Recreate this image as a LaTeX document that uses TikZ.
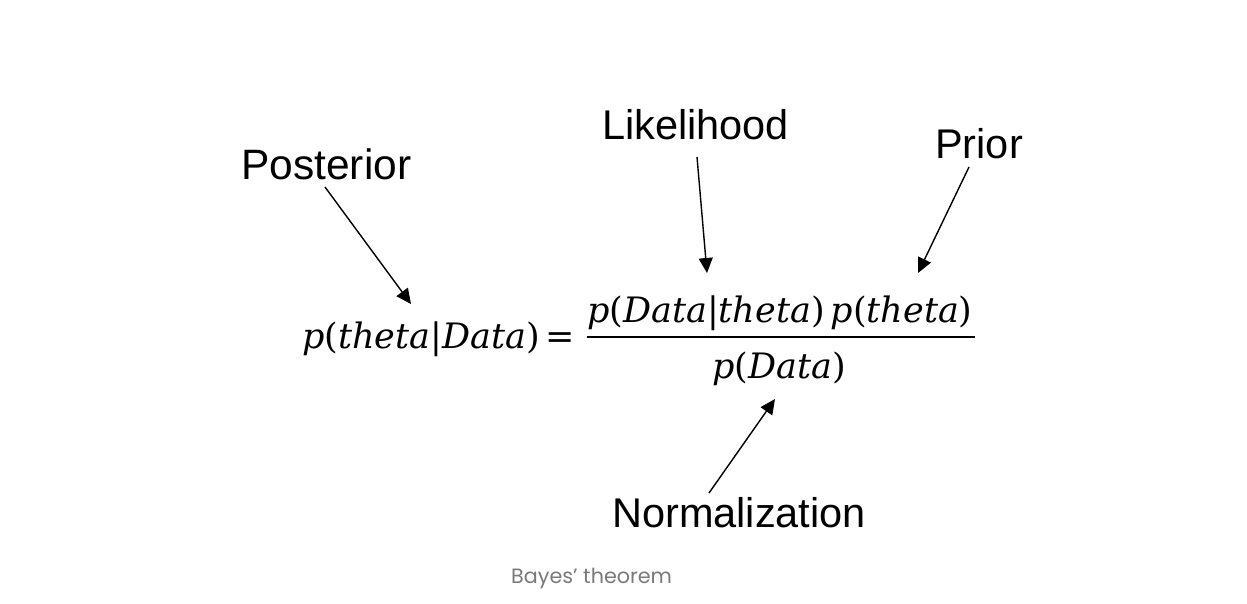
\documentclass[tikz,border=0pt]{standalone}
\usepackage{fontspec}
\setmainfont{Liberation Sans}
\newfontfamily\fm{DejaVu Serif}
\newfontfamily\capfont{Poppins}
\usetikzlibrary{arrows.meta}
\definecolor{capgray}{HTML}{7A7A7A}
\newcommand{\iv}[1]{{\itshape #1}}
\tikzset{
  lbl/.style={anchor=base west, inner sep=0pt, font=\fontsize{41.5}{48}\selectfont},
  fml/.style={anchor=base west, inner sep=0pt, font=\fm\fontsize{35}{40}\selectfont},
  arr/.style={line width=1.4pt, -{Triangle[length=15pt,width=14pt]}}
}
\begin{document}
\begin{tikzpicture}[x=1pt,y=-1pt]
\useasboundingbox[fill=white] (0,0) rectangle (1247,604);
% labels
\node[lbl, font=\fontsize{42.5}{48}\selectfont] (post) at (241,180) {Posterior};
\node[lbl] (like) at (602,140) {Likelihood};
\node[lbl] (prior) at (935,159) {Prior};
\node[lbl] (norm) at (612,527) {Normalization};
% formula
\node[fml] (lhs) at (302,348) {\iv{p}(\iv{theta}|\iv{Data})\,=};
\node[fml] (num) at (587,322) {\iv{p}(\iv{Data}|\iv{theta})\,\iv{p}(\iv{theta})};
\node[fml] (den) at (712,378) {\iv{p}(\iv{Data})};
\coordinate (barL) at (587,337);
\coordinate (barR) at (975,337);
\draw[line width=1.8pt] (barL) -- (barR);
% arrows
\coordinate (postS) at (325,187);
\coordinate (postT) at (411,304);
\coordinate (likeS) at (697,157);
\coordinate (likeT) at (707,273);
\coordinate (priorS) at (969,167);
\coordinate (priorT) at (918,273);
\coordinate (normS) at (709,493);
\coordinate (normT) at (775,399);
\draw[arr] (postS) -- (postT);
\draw[arr] (likeS) -- (likeT);
\draw[arr] (priorS) -- (priorT);
\draw[arr] (normS) -- (normT);
% caption
\node[anchor=base west, inner sep=0pt, text=capgray, font=\capfont\fontsize{20.7}{24}\selectfont] (cap) at (511,583) {Bayes’ theorem};
\end{tikzpicture}
\end{document}
